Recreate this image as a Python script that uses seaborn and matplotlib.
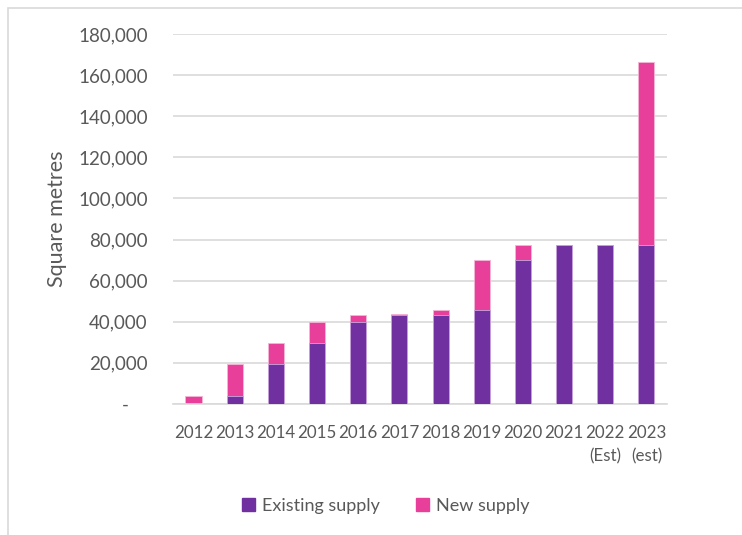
import matplotlib
matplotlib.use("Agg")
import matplotlib.pyplot as plt
import seaborn as sns
import pandas as pd
from matplotlib.patches import Patch, Rectangle
from matplotlib.ticker import FuncFormatter

years = ["2012", "2013", "2014", "2015", "2016", "2017", "2018", "2019",
         "2020", "2021", "2022\n(Est)", "2023\n(est)"]
existing = [0, 4000, 19500, 29500, 40000, 43200, 43500, 45600,
            70000, 77300, 77300, 77300]
new = [4000, 15500, 10000, 10500, 3200, 500, 2100, 24500,
       7300, 0, 0, 89300]

purple = "#7030A0"
pink = "#E8409A"
grey = "#595959"

df = pd.DataFrame({"Year": years, "Existing": existing, "New": new})
df["Total"] = df["Existing"] + df["New"]

sns.set_style("white")
plt.rcParams["font.family"] = ["Lato", "DejaVu Sans"]

fig = plt.figure(figsize=(7.42, 5.35), dpi=100)
ax = fig.add_axes([0.233, 0.245, 0.666, 0.6915])

# stacked bars: total (new on top) drawn first, existing drawn over it
sns.barplot(data=df, x="Year", y="Total", color=pink, width=0.39,
            saturation=1, ax=ax, edgecolor="#f3b6d6", linewidth=0.6, zorder=2)
sns.barplot(data=df, x="Year", y="Existing", color=purple, width=0.39,
            saturation=1, ax=ax, edgecolor="#c9a6e0", linewidth=0.6, zorder=3)

ax.set_ylim(0, 180000)
ax.set_xlim(-0.5, 11.5)
ax.set_yticks(range(0, 180001, 20000))
ax.yaxis.set_major_formatter(FuncFormatter(lambda v, p: "-    " if v == 0 else f"{int(v):,}"))
ax.grid(axis="y", color="#d9d9d9", linewidth=1.2, zorder=0)
ax.set_axisbelow(True)
for s in ["top", "right", "left"]:
    ax.spines[s].set_visible(False)
ax.spines["bottom"].set_color("#d9d9d9")
ax.spines["bottom"].set_linewidth(1.2)

ax.tick_params(axis="y", length=0, labelsize=13.5, colors=grey, pad=18)
ax.tick_params(axis="x", length=0, labelsize=12.2, colors=grey, pad=15)
for lab in ax.get_xticklabels():
    lab.set_horizontalalignment("center")
    lab.set_linespacing(1.6)
ax.set_xlabel("")
ax.set_ylabel("Square metres", fontsize=15.5, color=grey, labelpad=8)

handles = [Patch(color=purple, label="Existing supply"),
           Patch(color=pink, label="New supply")]
fig.legend(handles=handles, loc="center", bbox_to_anchor=(0.52, 0.054), ncol=2,
           frameon=False, fontsize=13, labelcolor=grey, handlelength=0.7,
           handleheight=0.7, handletextpad=0.4, columnspacing=2.0)

# outer chart border (right and bottom fall outside the picture)
fig.patches.append(Rectangle((0.011, -0.05), 1.2, 1.035, transform=fig.transFigure,
                             fill=False, edgecolor="#d9d9d9", linewidth=1.2))

fig.savefig("out.png", dpi=100)
